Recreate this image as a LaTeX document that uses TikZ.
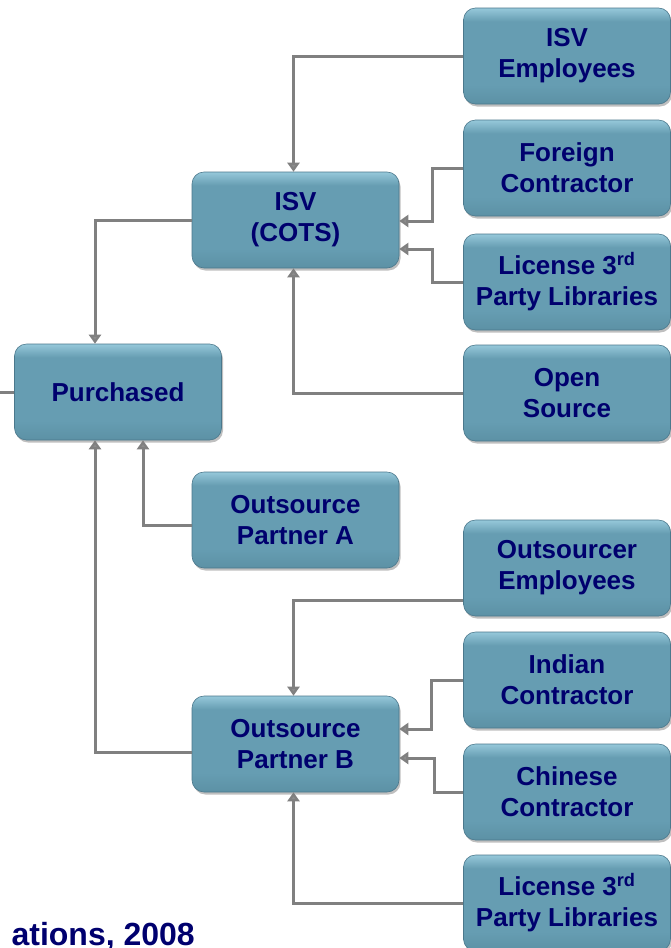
\documentclass[tikz,border=0pt]{standalone}
\usepackage{fontspec}
\setmainfont{Liberation Sans}
\usetikzlibrary{arrows.meta,shadows}
\definecolor{boxmid}{RGB}{102,157,178}
\definecolor{boxtop}{RGB}{150,200,218}
\definecolor{boxbot}{RGB}{92,145,165}
\definecolor{boxedge}{RGB}{75,120,140}
\definecolor{navytext}{RGB}{0,0,110}
\definecolor{linegray}{RGB}{128,128,128}
\definecolor{tipgray}{RGB}{140,140,140}
\pgfdeclareverticalshading{boxshade}{100bp}{color(0bp)=(boxbot); color(25bp)=(boxbot);
  color(35bp)=(boxmid); color(68bp)=(boxmid); color(75bp)=(boxtop); color(100bp)=(boxtop)}

\tikzset{
  srcbox/.style={draw=boxedge, line width=0.6pt, rounded corners=12pt,
    shading=boxshade,
    minimum width=207pt, minimum height=96pt, align=center,
    text=navytext, font=\fontsize{26}{31}\selectfont\bfseries,
    drop shadow={shadow xshift=1.5pt, shadow yshift=-2.5pt, fill=black!50, opacity=0.5}},
  link/.style={draw=linegray, line width=3pt,
    -{Triangle[width=12pt,length=9pt,fill=tipgray]}},
  plainlink/.style={draw=linegray, line width=3pt}
}

\begin{document}
\begin{tikzpicture}[x=1pt,y=-1pt]
  \useasboundingbox (0,0) rectangle (670,948);
  % inner column
  \node[srcbox] (isv)   at (295.5,220) {ISV\\(COTS)};
  \node[srcbox] (purch) at (118,392)   {Purchased};
  \node[srcbox] (partA) at (295.5,520) {Outsource\\Partner A};
  \node[srcbox] (partB) at (295.5,744) {Outsource\\Partner B};
  % outer column
  \node[srcbox] (isvemp)  at (567,56)  {ISV\\Employees};
  \node[srcbox] (foreign) at (567,168) {Foreign\\Contractor};
  \node[srcbox] (libA)    at (567,282) {License 3\textsuperscript{rd}\\Party Libraries};
  \node[srcbox] (open)    at (567,393) {Open\\Source};
  \node[srcbox] (outemp)  at (567,568) {Outsourcer\\Employees};
  \node[srcbox] (indian)  at (567,680) {Indian\\Contractor};
  \node[srcbox] (chinese) at (567,792) {Chinese\\Contractor};
  \node[srcbox] (libB)    at (567,903) {License 3\textsuperscript{rd}\\Party Libraries};
  \coordinate (offleft) at (0,392);

  % connectors into ISV
  \draw[link] (isvemp.west) -| ([xshift=-2pt]isv.north);
  \draw[link] (foreign.west) -- ++(-31,0) |- ([yshift=-1pt]isv.east);
  \draw[link] (libA.west) -- ++(-31,0) |- ([yshift=-29pt]isv.east);
  \draw[link] (open.west) -| ([xshift=-2pt]isv.south);
  % connectors into Partner B
  \draw[link] ([yshift=-32pt]outemp.west) -| ([xshift=-2pt]partB.north);
  \draw[link] (indian.west) -- ++(-32,0) |- ([yshift=15pt]partB.east);
  \draw[link] (chinese.west) -- ++(-29,0) |- ([yshift=-14pt]partB.east);
  \draw[link] (libB.west) -| ([xshift=-2pt]partB.south);
  % connectors into Purchased
  \draw[link] (isv.west) -| ([xshift=-23pt]purch.north);
  \draw[link] ([yshift=-5pt]partA.west) -| ([xshift=25pt]purch.south);
  \draw[link] ([yshift=-8pt]partB.west) -| ([xshift=-23pt]purch.south);
  \draw[plainlink] (purch.west) -- (offleft);

  \node[anchor=base east, text=navytext, font=\fontsize{32}{36}\selectfont\bfseries, inner sep=0pt]
    (caption) at (195,945) {ations, 2008};
\end{tikzpicture}
\end{document}
